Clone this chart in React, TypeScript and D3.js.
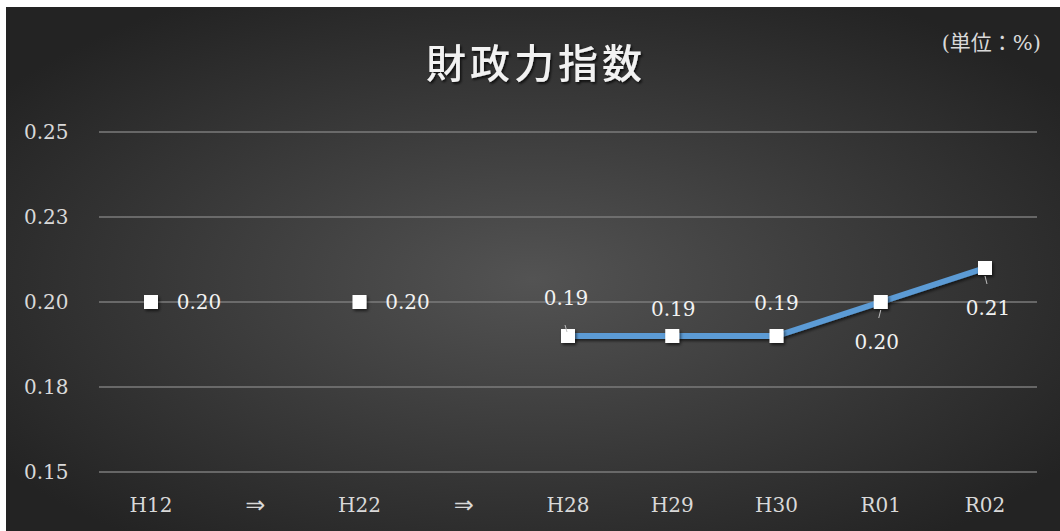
import React from "react";
import * as d3 from "d3";

const categories = ["H12", "⇒", "H22", "⇒", "H28", "H29", "H30", "R01", "R02"];
const values: (number | null)[] = [0.2, null, 0.2, null, 0.19, 0.19, 0.19, 0.2, 0.21];
const valueLabels = ["0.20", "", "0.20", "", "0.19", "0.19", "0.19", "0.20", "0.21"];
const tickValues = [0.15, 0.175, 0.2, 0.225, 0.25];
const tickLabels = ["0.15", "0.18", "0.20", "0.23", "0.25"];
const title = "財政力指数";
const unitText = "(単位：%)";

const W = 1060;
const H = 531;
const left = 99;
const right = 1037;
const top = 132;
const bottom = 472;

const serif = "'DejaVu Serif', 'Noto Sans CJK JP', serif";

// label placement offsets relative to marker (dx, dy of text center)
const labelOffsets: Record<number, [number, number, boolean]> = {
  0: [48, 0, false],
  2: [48, 0, false],
  4: [-2, -38, true],
  5: [1, -27, false],
  6: [0, -33, false],
  7: [-4, 40, true],
  8: [3, 40, true],
};

export default function App() {
  const x = d3.scalePoint<string>().domain(categories.map((c, i) => i + "")).range([151, 985]);
  const y = d3.scaleLinear().domain([0.15, 0.25]).range([bottom, top]);
  const pts = values.map((v, i) => ({ v, i, cx: x(i + "")!, cy: v == null ? 0 : y(v) }));
  const line = d3
    .line<{ v: number | null; cx: number; cy: number }>()
    .defined((d) => d.v != null)
    .x((d) => d.cx)
    .y((d) => d.cy);
  const linePath = line(pts);

  return (
    <svg
      width={W}
      height={H}
      style={{ position: "absolute", left: 0, top: 0 }}
      xmlns="http://www.w3.org/2000/svg"
    >
      <defs>
        <radialGradient id="bg" cx="50%" cy="52%" r="62%" fx="50%" fy="52%">
          <stop offset="0%" stopColor="#535353" />
          <stop offset="100%" stopColor="#232323" />
        </radialGradient>
        <filter id="shadow" x="-50%" y="-50%" width="200%" height="200%">
          <feDropShadow dx="1.5" dy="2" stdDeviation="1.5" floodColor="#000" floodOpacity="0.6" />
        </filter>
        <filter id="tshadow" x="-10%" y="-20%" width="120%" height="150%">
          <feDropShadow dx="1.5" dy="2" stdDeviation="1.2" floodColor="#000" floodOpacity="0.7" />
        </filter>
      </defs>
      <rect x={0} y={0} width={W} height={H} fill="#fff" />
      <rect x={6} y={7} width={W - 6} height={H - 7} fill="url(#bg)" />

      <text
        x={536}
        y={78}
        textAnchor="middle"
        fill="#f2f2f2"
        fontSize={40}
        fontFamily="'Noto Sans CJK JP', sans-serif"
        fontWeight={500}
        letterSpacing={4}
        filter="url(#tshadow)"
      >
        {title}
      </text>
      <text x={1041} y={50} textAnchor="end" fill="#d9d9d9" fontSize={21} fontFamily={serif}>
        {unitText}
      </text>

      {tickValues.map((t, i) => (
        <g key={i}>
          <line x1={left} x2={right} y1={y(t)} y2={y(t)} stroke="#7b7b7b" strokeWidth={1.5} />
          <text
            x={24}
            y={y(t)}
            dy="0.35em"
            fill="#d9d9d9"
            fontSize={20}
            fontFamily={serif}
          >
            {tickLabels[i]}
          </text>
        </g>
      ))}

      {categories.map((c, i) => (
        <text
          key={i}
          x={x(i + "")!}
          y={505}
          dy="0.35em"
          textAnchor="middle"
          fill="#d9d9d9"
          fontSize={c === "⇒" ? 24 : 20}
          fontFamily={c === "⇒" ? "'DejaVu Sans', sans-serif" : serif}
        >
          {c}
        </text>
      ))}

      {linePath && (
        <path d={linePath} fill="none" stroke="#5b9bd5" strokeWidth={6} strokeLinejoin="round" filter="url(#shadow)" />
      )}

      {pts
        .filter((p) => p.v != null)
        .map((p) => (
          <rect
            key={p.i}
            x={p.cx - 7}
            y={p.cy - 7}
            width={14}
            height={14}
            fill="#ffffff"
            filter="url(#shadow)"
          />
        ))}

      {pts
        .filter((p) => p.v != null)
        .map((p) => {
          const [dx, dy, leader] = labelOffsets[p.i];
          const tx = p.cx + dx;
          const ty = p.cy + dy;
          return (
            <g key={p.i}>
              {leader && (
                <line
                  x1={p.cx + (dy < 0 ? -3 : 0)}
                  y1={p.cy + (dy < 0 ? -11 : 8)}
                  x2={p.cx + (dy < 0 ? -1 : -2) + (p.i === 8 ? 4 : 0)}
                  y2={p.cy + (dy < 0 ? -4 : 16)}
                  stroke="#bfbfbf"
                  strokeWidth={1}
                />
              )}
              <text
                x={tx}
                y={ty}
                dy="0.35em"
                textAnchor="middle"
                fill="#f2f2f2"
                fontSize={20}
                fontFamily={serif}
              >
                {valueLabels[p.i]}
              </text>
            </g>
          );
        })}
    </svg>
  );
}
